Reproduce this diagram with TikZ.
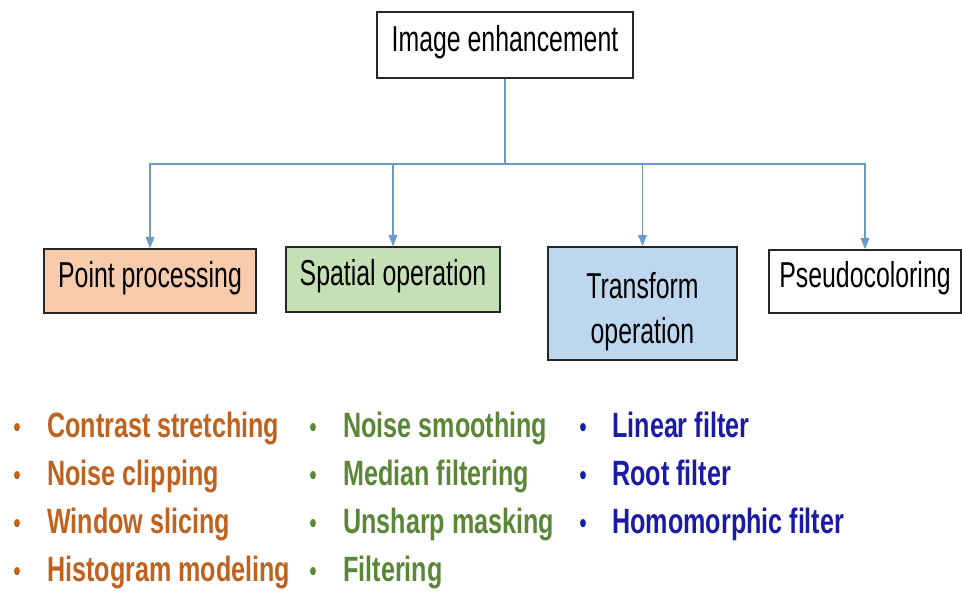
\documentclass[tikz,border=0pt]{standalone}
\usepackage{fontspec}
\setmainfont[FakeStretch=0.69]{Liberation Sans}
\newfontfamily\listfont[FakeStretch=0.715]{Liberation Sans}
\usetikzlibrary{positioning,arrows.meta}
\definecolor{ppfill}{HTML}{F8CBAD}
\definecolor{spfill}{HTML}{C5E0B4}
\definecolor{trfill}{HTML}{BDD7EE}
\definecolor{linkblue}{HTML}{6A9CC7}
\definecolor{ppcol}{HTML}{C0621E}
\definecolor{spcol}{HTML}{5A8636}
\definecolor{trcol}{HTML}{1A1AA8}

\begin{document}
\begin{tikzpicture}[
        box/.style={draw=black!85, line width=0.9pt, inner sep=0pt, align=center,
            font=\fontsize{20.5}{25.6}\selectfont},
        oneline/.style={text height=0.72em, text depth=0pt},
        link/.style={draw=linkblue, line width=0.9pt, -{Triangle[width=5pt,length=6.5pt]}},
        item/.style={font=\listfont\bfseries\fontsize{20}{20}\selectfont, inner sep=0pt, anchor=base west},
        dot/.style={font=\listfont\fontsize{17}{20}\selectfont, inner sep=0pt, anchor=base}
    ]
    \useasboundingbox (0, 0) rectangle (19.24, 11.82);
    % Root
    \node[box, oneline, minimum width=5.12cm, minimum height=1.32cm] (root) at (10.1, 10.92) {Image enhancement};
    % Operations
    \node[box, oneline, fill=ppfill, minimum width=4.24cm, minimum height=1.28cm] (pp) at (3.0, 6.2) {Point processing};
    \node[box, oneline, fill=spfill, minimum width=4.28cm, minimum height=1.3cm] (sp) at (7.86, 6.23) {Spatial operation};
    \node[box, fill=trfill, minimum width=3.78cm, minimum height=2.26cm] (tr) at (12.85, 5.75) {\rule{0pt}{24pt}Transform\\operation};
    \node[box, oneline, minimum width=3.84cm, minimum height=1.26cm] (ps) at (17.3, 6.19) {Pseudocoloring};
    % Links
    \foreach \n in {pp, sp, tr, ps}
        \draw[link] (root.south) -- ++(0, -1.7) -| (\n.north);
    % Point processing items
    \foreach \txt [count=\i] in {Contrast stretching, Noise clipping, Window slicing, Histogram modeling} {
        \node[dot, text=ppcol] (ppb\i) at (0.34, {4.04 - 0.96*\i}) {•};
        \node[item, text=ppcol] (ppi\i) at (0.94, {4.04 - 0.96*\i}) {\txt};
    }
    % Spatial operation items
    \foreach \txt [count=\i] in {Noise smoothing, Median filtering, Unsharp masking, Filtering} {
        \node[dot, text=spcol] (spb\i) at (6.26, {4.04 - 0.96*\i}) {•};
        \node[item, text=spcol] (spi\i) at (6.86, {4.04 - 0.96*\i}) {\txt};
    }
    % Transform operation items
    \foreach \txt [count=\i] in {Linear filter, Root filter, Homomorphic filter} {
        \node[dot, text=trcol] (trb\i) at (11.66, {4.04 - 0.96*\i}) {•};
        \node[item, text=trcol] (tri\i) at (12.24, {4.04 - 0.96*\i}) {\txt};
    }
\end{tikzpicture}
\end{document}
